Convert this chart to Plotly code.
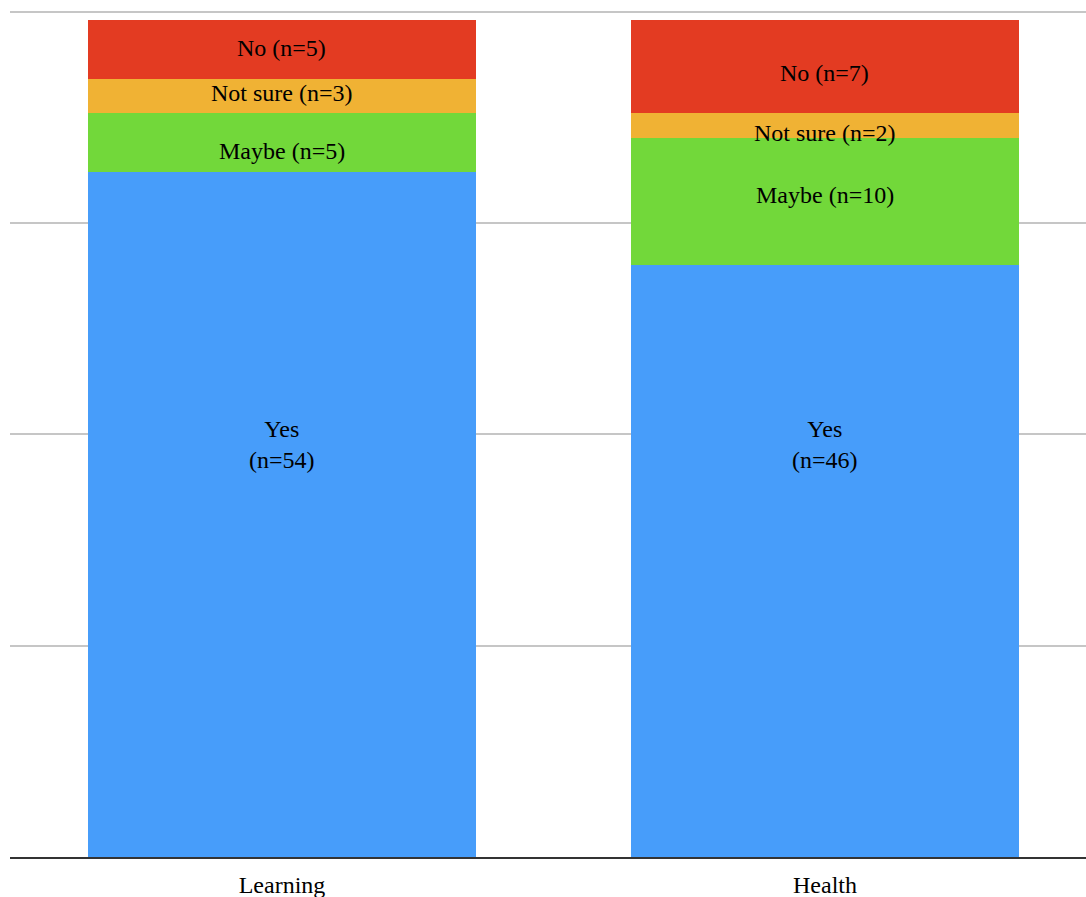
import plotly.graph_objects as go

categories = ["Learning", "Health"]
series_names = ["Yes", "Maybe", "Not sure", "No"]
# percentage heights (per category)
yes_pct = [81, 70]
maybe_pct = [7, 15]
notsure_pct = [4, 3]
no_pct = [7, 11]
# respondent counts shown in the labels
yes_n = [54, 46]
maybe_n = [5, 10]
notsure_n = [3, 2]
no_n = [5, 7]

colors = {"Yes": "#479DFA", "Maybe": "#72D83A", "Not sure": "#F0B234", "No": "#E33B22"}

values = {"Yes": yes_pct, "Maybe": maybe_pct, "Not sure": notsure_pct, "No": no_pct}
counts = {"Yes": yes_n, "Maybe": maybe_n, "Not sure": notsure_n, "No": no_n}

# label vertical positions (in axis units) as placed in the original chart
label_y = {
    "Yes": [48.8, 48.8],
    "Maybe": [83.5, 78.3],
    "Not sure": [90.4, 85.6],
    "No": [95.7, 92.8],
}

FONT = "Liberation Serif, Times New Roman, serif"

fig = go.Figure()
for name in series_names:
    fig.add_trace(go.Bar(
        x=categories, y=values[name], name=name,
        marker=dict(color=colors[name], line=dict(width=0)),
        width=0.715, hoverinfo="skip",
    ))

annotations = []
for name in series_names:
    for i, cat in enumerate(categories):
        if name == "Yes":
            txt = f"Yes<br>(n={counts[name][i]})"
        else:
            txt = f"{name} (n={counts[name][i]})"
        annotations.append(dict(
            x=cat, y=label_y[name][i], xref="x", yref="y", text=txt,
            showarrow=False, font=dict(family=FONT, size=24, color="#000"),
            xanchor="center", yanchor="middle",
        ))

fig.update_layout(
    barmode="stack",
    width=1086, height=897,
    margin=dict(l=10, r=0, t=10, b=40),
    paper_bgcolor="white", plot_bgcolor="white",
    showlegend=False,
    annotations=annotations,
    font=dict(family=FONT, size=24, color="#000"),
    xaxis=dict(
        range=[-0.5009, 1.4807], showgrid=False, showline=True,
        linecolor="#333333", linewidth=2, ticks="",
        tickfont=dict(family=FONT, size=24, color="#000"),
        ticklabelstandoff=5,
        fixedrange=True,
    ),
    yaxis=dict(
        range=[0, 100.2], tickvals=[0, 25, 50, 75, 100], showticklabels=False,
        showgrid=True, gridcolor="#c6c6c6", gridwidth=1.5, zeroline=False,
        showline=False, fixedrange=True,
    ),
)

fig.write_html("out.html", config={"displayModeBar": False})
